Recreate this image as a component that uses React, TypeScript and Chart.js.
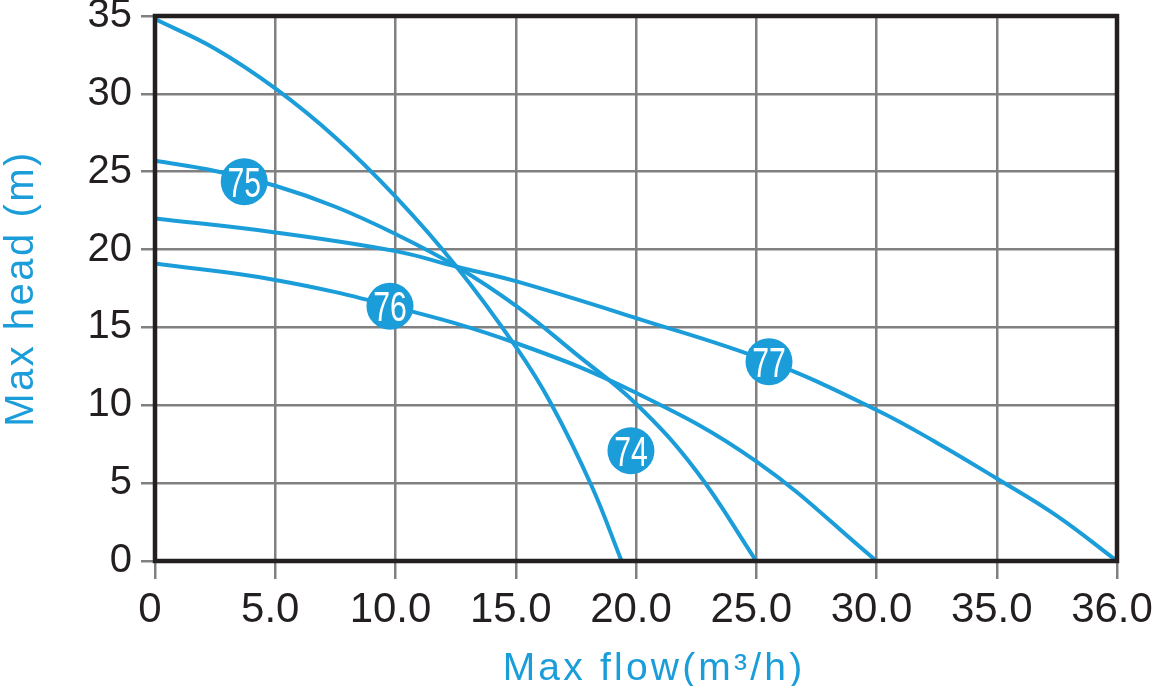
import React, { useEffect, useRef } from "react";
import { Chart, registerables } from "chart.js";

Chart.register(...registerables);

// ---- axis ticks ----
const FLOW_TICKS = [0, 5, 10, 15, 20, 25, 30, 35, 36];
const FLOW_TICK_LABELS = ["0", "5.0", "10.0", "15.0", "20.0", "25.0", "30.0", "35.0", "36.0"];
const HEAD_MIN = 0;
const HEAD_MAX = 35;
const HEAD_STEP = 5;

// ---- curves (flow m3/h, head m) ----
const curve74Flow = [0, 2.5, 5, 7.5, 10, 12.54, 15, 16.47, 18.16, 19.4];
const curve74Head = [34.8, 32.9, 30.35, 27.2, 23.4, 18.9, 13.76, 10.1, 4.8, 0];

const curve75Flow = [0, 2.5, 5, 7.5, 10, 12.5, 15, 17.5, 20, 22.5, 25];
const curve75Head = [25.7, 25.05, 24.1, 22.75, 21.0, 18.95, 16.4, 13.3, 10.1, 5.8, 0];

const curve76Flow = [0, 5, 10, 15, 20, 25, 30];
const curve76Head = [19.1, 18.05, 16.3, 14.0, 10.8, 6.4, 0];

const curve77Flow = [0, 5, 10, 12.54, 15, 20, 25.53, 30, 32.5, 35, 35.5, 36];
const curve77Head = [22.0, 21.1, 19.9, 18.9, 17.97, 15.6, 12.8, 9.7, 7.6, 5.3, 2.9, 0];

// ---- curve tags ----
const tagNames = ["75", "76", "77", "74"];
const tagFlow = [3.71, 9.77, 25.53, 19.79];
const tagHead = [24.36, 16.36, 12.8, 7.08];

const BLUE = "#1b9dd9";
const GRID = "#808080";
const TEXT = "#231f20";
const FONT = "'Liberation Sans', Arial, Helvetica, sans-serif";

// x axis has evenly spaced ticks (last step 35 -> 36 is as wide as the others)
function flowToAxis(f: number): number {
  for (let i = 0; i < FLOW_TICKS.length - 1; i++) {
    const a = FLOW_TICKS[i];
    const b = FLOW_TICKS[i + 1];
    if (f <= b || i === FLOW_TICKS.length - 2) {
      return 5 * i + (5 * (f - a)) / (b - a);
    }
  }
  return 0;
}

function pts(fl: number[], hd: number[]) {
  return fl.map((f, i) => ({ x: flowToAxis(f), y: hd[i] }));
}

const decor = {
  id: "decor",
  afterDatasetsDraw(chart: any) {
    const { ctx, chartArea: a } = chart;
    ctx.save();
    ctx.strokeStyle = TEXT;
    ctx.lineWidth = 4.5;
    ctx.strokeRect(a.left, a.top, a.right - a.left, a.bottom - a.top);
    ctx.restore();

    // tag texts
    const meta = chart.getDatasetMeta(0);
    ctx.save();
    ctx.fillStyle = "#ffffff";
    ctx.font = `42px ${FONT}`;
    ctx.textAlign = "center";
    ctx.textBaseline = "alphabetic";
    meta.data.forEach((p: any, i: number) => {
      ctx.save();
      ctx.translate(p.x, p.y + 15);
      ctx.scale(0.72, 1);
      ctx.fillText(tagNames[i], 0, 0);
      ctx.restore();
    });
    ctx.restore();
  },
  afterDraw(chart: any) {
    const { ctx, chartArea: a } = chart;
    ctx.save();
    ctx.fillStyle = BLUE;
    ctx.font = `40px ${FONT}`;
    (ctx as any).letterSpacing = "2.5px";
    ctx.textAlign = "center";
    ctx.textBaseline = "alphabetic";
    ctx.save();
    ctx.translate(33, (a.top + a.bottom) / 2);
    ctx.rotate(-Math.PI / 2);
    ctx.fillText("Max head (m)", 0, 0);
    ctx.restore();
    ctx.font = `39px ${FONT}`;
    (ctx as any).letterSpacing = "3.2px";
    ctx.fillText("Max flow(m\u00B3/h)", 654, 680);
    ctx.restore();
  },
};

export default function App() {
  const ref = useRef<HTMLCanvasElement>(null);
  useEffect(() => {
    if (!ref.current) return;
    const curveStyle = {
      borderColor: BLUE,
      borderWidth: 4,
      pointRadius: 0,
      fill: false,
      tension: 0.4,
      order: 1,
    };
    const chart = new Chart(ref.current, {
      type: "line",
      data: {
        datasets: [
          {
            label: "tags",
            data: pts(tagFlow, tagHead),
            showLine: false,
            pointRadius: 23.5,
            pointBackgroundColor: BLUE,
            pointBorderWidth: 0,
            pointHoverRadius: 23.5,
            order: 0,
            clip: false as any,
          },
          { label: "74", data: pts(curve74Flow, curve74Head), ...curveStyle },
          { label: "75", data: pts(curve75Flow, curve75Head), ...curveStyle },
          { label: "76", data: pts(curve76Flow, curve76Head), ...curveStyle },
          { label: "77", data: pts(curve77Flow, curve77Head), ...curveStyle },
        ],
      },
      options: {
        animation: false,
        responsive: false,
        events: [],
        layout: { autoPadding: false, padding: { top: 16, right: 35, left: 0, bottom: 0 } },
        plugins: { legend: { display: false }, tooltip: { enabled: false } },
        scales: {
          x: {
            type: "linear",
            min: 0,
            max: flowToAxis(FLOW_TICKS[FLOW_TICKS.length - 1]),
            afterFit: (s: any) => {
              s.height = 125;
              s.paddingLeft = 0;
              s.paddingRight = 0;
            },
            border: { display: false },
            grid: { color: GRID, lineWidth: 2.5, tickLength: 18, drawTicks: true, tickColor: GRID, tickWidth: 2.5 },
            ticks: {
              stepSize: 5,
              autoSkip: false,
              maxRotation: 0,
              minRotation: 0,
              padding: 6,
              labelOffset: -5,
              color: TEXT,
              font: { family: FONT, size: 42 },
              callback: (_v: any, i: number) => FLOW_TICK_LABELS[i],
            },
          },
          y: {
            type: "linear",
            min: HEAD_MIN,
            max: HEAD_MAX,
            afterFit: (s: any) => {
              s.width = 155;
              s.paddingTop = 0;
              s.paddingBottom = 0;
            },
            border: { display: false },
            grid: { color: GRID, lineWidth: 2.5, tickLength: 14, drawTicks: true, tickColor: GRID, tickWidth: 2.5 },
            ticks: {
              stepSize: HEAD_STEP,
              padding: 9,
              color: TEXT,
              font: { family: FONT, size: 40 },
              callback: (v: any) => String(v),
            },
          },
        },
      },
      plugins: [decor],
    });
    return () => chart.destroy();
  }, []);
  return (
    <div style={{ position: "absolute", left: 0, top: 0, width: 1152, height: 686, background: "#fff" }}>
      <canvas ref={ref} width={1152} height={686} style={{ display: "block" }} />
    </div>
  );
}
